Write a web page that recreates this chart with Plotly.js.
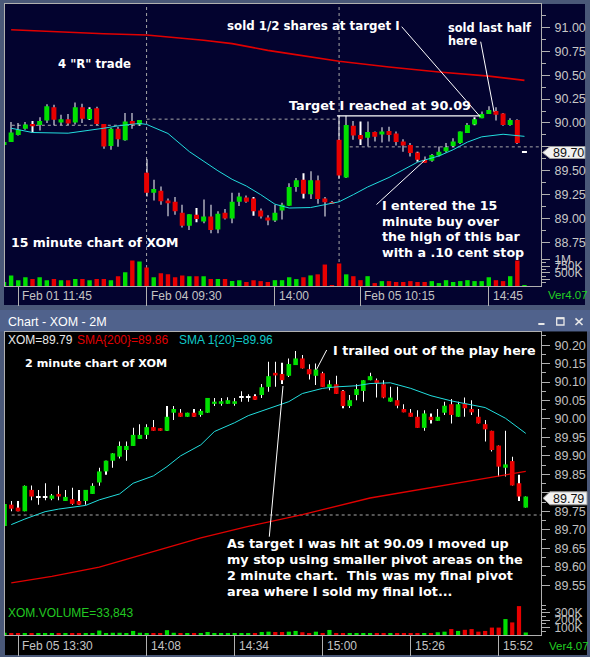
<!DOCTYPE html>
<html><head><meta charset="utf-8">
<script src="https://cdn.plot.ly/plotly-3.0.1.min.js"></script>
<style>html,body{margin:0;padding:0;background:#4a5878;}#chart{width:590px;height:657px;}</style>
</head><body><div id="chart"></div>
<script>
// ---------- 15 minute chart (top) ----------
const topOpen = [89.77,89.80,89.875,89.94,89.99,89.98,90.025,90.165,90.005,90.04,
 90.005,90.165,90.04,90.155,89.99,89.76,89.94,89.82,90.02,89.985,
 89.48,89.27,89.29,89.19,89.175,89.06,88.925,89.04,88.97,89.02,
 88.885,89.06,89.00,89.175,89.22,89.21,89.085,89.01,88.98,89.085,
 89.135,89.33,89.405,89.255,89.40,89.21,89.175,89.825,89.43,89.97,
 89.875,89.845,89.905,89.88,89.915,89.89,89.805,89.77,89.69,89.615,
 89.605,89.66,89.705,89.76,89.79,89.895,89.985,90.05,90.095,90.125,
 90.10,89.98,90.03,89.70];
const topHigh = [89.80,90.01,90.00,90.01,90.02,90.06,90.195,90.19,90.085,90.095,
 90.215,90.20,90.165,90.17,89.99,89.95,89.96,90.105,90.105,90.03,
 89.62,89.405,89.335,89.21,89.225,89.145,89.045,89.11,89.20,89.145,
 89.075,89.10,89.27,89.27,89.24,89.225,89.105,89.035,89.145,89.165,
 89.37,89.425,89.475,89.495,89.45,89.225,89.18,90.075,90.075,90.02,
 90.015,90.015,89.91,89.955,89.96,89.91,89.83,89.79,89.70,89.65,
 89.675,89.755,89.79,89.84,89.91,90.00,90.06,90.12,90.175,90.165,
 90.105,90.05,90.04,89.70];
const topLow = [89.76,89.80,89.87,89.93,89.90,89.92,90.00,89.975,89.98,89.98,
 89.985,90.00,90.03,89.98,89.73,89.72,89.75,89.815,89.94,89.97,
 89.23,89.19,89.145,89.025,89.04,88.905,88.88,88.96,88.95,88.845,
 88.845,88.99,88.95,89.13,89.165,89.03,89.00,88.93,88.965,88.99,
 89.13,89.28,89.21,89.205,89.155,89.02,89.165,89.415,89.425,89.825,
 89.77,89.755,89.805,89.795,89.805,89.765,89.70,89.65,89.595,89.58,
 89.595,89.65,89.69,89.745,89.78,89.895,89.975,90.05,90.095,90.025,
 89.97,89.97,89.78,89.70];
const topClose = [89.80,89.90,89.93,89.985,89.965,90.02,90.175,90.035,90.04,89.995,
 90.165,90.045,90.145,89.99,89.755,89.94,89.83,90.015,89.98,90.03,
 89.27,89.31,89.18,89.16,89.075,88.925,89.045,88.995,89.02,88.88,
 89.05,89.00,89.175,89.23,89.175,89.075,89.02,88.98,89.06,89.145,
 89.33,89.40,89.26,89.40,89.205,89.17,89.165,89.45,89.98,89.87,
 89.83,89.905,89.855,89.91,89.875,89.80,89.765,89.685,89.615,89.585,
 89.665,89.70,89.745,89.805,89.91,89.98,90.04,90.095,90.135,90.085,
 89.98,90.03,89.79,89.70];
const topVolumeK = [150,400,220,330,260,330,220,260,220,220,
 260,260,220,260,260,220,370,520,960,920,
 700,330,480,440,330,400,370,370,370,260,
 260,260,185,220,150,220,185,150,220,220,
 330,260,330,400,440,810,25,850,440,370,
 220,370,110,185,185,150,150,185,150,150,
 185,110,220,150,185,220,185,185,330,220,
 185,370,960,10];
const topSma200Idx = [1,6,11,14,20,25,28,32,37,40,47,54,61,68,73];
const topSma200 = [90.976,90.96,90.94,90.934,90.92,90.89,90.865,90.83,90.76,90.726,90.646,90.586,90.534,90.49,90.446];
const topSma20Idx = [1,4,9,12,14,16,19,20,23,26,28,30,32,34,36,38,40,43,45,47,49,51,54,56,58,61,63,65,67,70,73];
const topSma20 = [89.945,89.90,89.893,89.92,89.945,89.97,89.995,89.985,89.89,89.70,89.60,89.50,89.41,89.34,89.25,89.15,89.11,89.115,89.145,89.175,89.25,89.33,89.43,89.51,89.59,89.655,89.72,89.80,89.855,89.882,89.86];
const topTickIdx = [2,20,38,50,68];
const topTickLabels = ['Feb 01 11:45','Feb 04 09:30','14:00','Feb 05 10:15','14:45'];
const topPriceTicks = [88.75,89.00,89.25,89.50,89.75,90.00,90.25,90.50,90.75,91.00];
const topPriceLabels = ['88.75','89.00','89.25','89.50','','90.00','90.25','90.50','90.75','91.00'];
const topVolTicks = [250000,500000,750000,1000000];
const topVolTickLabels = ['','500K','750K','1M'];
const topPrevClose1 = 89.976, topPrevClose2 = 90.04, topPrevClose3 = 89.75;
const topTargetLevel = 90.075;
const topDayStartIdx = [20,47];

// ---------- 2 minute chart (bottom) ----------
const botOpen = [89.71,89.768,89.76,89.75,89.808,89.79,89.79,89.784,89.797,89.778,
 89.783,89.778,89.778,89.797,89.828,89.858,89.887,89.898,89.916,89.927,
 89.946,89.957,89.978,89.975,89.968,90.017,90.017,90.006,90.017,90.011,
 90.017,90.041,90.041,90.041,90.041,90.059,90.059,90.062,90.065,90.087,
 90.125,90.122,90.117,90.146,90.164,90.135,90.117,90.124,90.089,90.094,
 90.076,90.035,90.065,90.076,90.105,90.105,90.094,90.047,90.051,90.027,
 90.017,90.006,89.976,90.006,89.995,90.017,90.04,90.006,90.042,90.027,
 90.006,89.986,89.968,89.928,89.868,89.886,89.826,89.76];
const botHigh = [89.77,89.778,89.778,89.82,89.82,89.808,89.826,89.797,89.819,89.808,
 89.814,89.808,89.808,89.826,89.868,89.887,89.907,89.939,89.939,89.976,
 89.986,89.986,89.997,89.975,90.035,90.035,90.027,90.017,90.027,90.027,
 90.057,90.057,90.057,90.059,90.057,90.075,90.067,90.067,90.095,90.155,
 90.155,90.152,90.164,90.184,90.173,90.148,90.15,90.128,90.105,90.117,
 90.078,90.065,90.094,90.105,90.125,90.11,90.105,90.087,90.087,90.04,
 90.027,90.024,90.024,90.015,90.027,90.047,90.054,90.047,90.058,90.051,
 90.027,89.997,89.968,89.928,89.968,89.898,89.849,89.79];
const botLow = [89.71,89.75,89.75,89.75,89.78,89.768,89.78,89.78,89.78,89.778,
 89.768,89.768,89.768,89.797,89.819,89.849,89.868,89.893,89.887,89.927,
 89.946,89.946,89.968,89.968,89.968,89.997,90.006,90.006,90.006,90.006,
 90.017,90.035,90.036,90.041,90.036,90.047,90.047,90.052,90.057,90.074,
 90.087,90.095,90.114,90.146,90.137,90.107,90.092,90.087,90.078,90.068,
 90.029,90.03,90.051,90.047,90.105,90.058,90.056,90.047,90.029,90.018,
 90.006,89.976,89.968,89.988,89.995,90.011,89.988,90.006,90.006,90.011,
 89.988,89.939,89.912,89.844,89.844,89.82,89.778,89.76];
const botClose = [89.77,89.757,89.75,89.819,89.79,89.79,89.79,89.793,89.79,89.789,
 89.77,89.768,89.808,89.819,89.858,89.887,89.907,89.927,89.927,89.957,
 89.957,89.978,89.968,89.968,90.006,90.027,90.006,90.017,90.006,90.022,
 90.057,90.047,90.048,90.051,90.048,90.059,90.059,90.052,90.086,90.116,
 90.118,90.105,90.149,90.164,90.137,90.121,90.134,90.087,90.094,90.068,
 90.035,90.051,90.081,90.105,90.116,90.096,90.058,90.058,90.036,90.018,
 90.006,89.976,90.015,89.997,90.006,90.036,90.011,90.04,90.029,90.018,
 89.988,89.972,89.916,89.871,89.877,89.82,89.79,89.79];
const botVolumeK = [30,20,20,25,20,15,15,20,15,20,
 20,15,20,25,60,25,30,30,20,55,
 30,25,20,25,65,30,25,20,20,25,
 40,25,20,20,25,15,15,20,40,45,
 40,40,45,55,37,25,45,15,68,25,
 25,20,20,25,25,25,25,25,20,20,
 25,25,25,25,37,45,80,55,70,80,
 45,55,100,100,215,170,390,33.843];
const botSma200Idx = [1,7,14,22,29,36,44,54,64,71,77];
const botSma200 = [89.556,89.574,89.599,89.641,89.678,89.709,89.741,89.786,89.817,89.84,89.858];
const botSma20Idx = [1,3,6,8,12,14,17,19,22,24,26,29,31,34,36,39,42,44,47,49,52,54,57,60,63,66,69,71,74,77];
const botSma20 = [89.714,89.729,89.749,89.756,89.766,89.781,89.797,89.826,89.846,89.871,89.90,89.93,89.966,89.99,90.009,90.027,90.047,90.069,90.083,90.087,90.09,90.096,90.098,90.083,90.063,90.049,90.038,90.031,90.002,89.961];
const botTickIdx = [2,21,34,47,60,73];
const botTickLabels = ['Feb 05 13:30','14:08','14:34','15:00','15:26','15:52'];
const botPriceTicks = [89.55,89.60,89.65,89.70,89.75,89.80,89.85,89.90,89.95,90.00,90.05,90.10,90.15,90.20];
const botPriceLabels = ['89.55','89.60','89.65','89.70','89.75','','89.85','89.90','89.95','90.00','90.05','90.10','90.15','90.20'];
const botVolTicks = [100000,200000,300000];
const botVolTickLabels = ['100K','200K','300K'];
const botStopLevel = 89.74;

// ---------- styling ----------
const W = 590, H = 657;
const px = x => x / W, py = y => 1 - y / H;
const GREEN = '#00e000', RED = '#e80000', CYAN = '#22dede', LINE = '#b0b0b0';
const SANS = 'Liberation Sans, Arial, sans-serif';
const BOLD = 'DejaVu Sans, Verdana, sans-serif';
const TICKTXT = '#c8c8c8';

function candles(o, h, l, c, xa, ya, bodyW, minBody) {
  const idx = o.map((_, i) => i);
  const wick = {type:'bar', x: idx, base: l, y: h.map((v, i) => v - l[i]), width: 0.02,
    marker:{color:'#ffffff', line:{width:0}}, xaxis: xa, yaxis: ya, hoverinfo:'skip'};
  const body = {type:'bar', x: idx,
    base: o.map((v, i) => (Math.abs(c[i]-v) < minBody) ? Math.min(v, c[i]) - minBody/2 : Math.min(v, c[i])),
    y: o.map((v, i) => Math.max(Math.abs(c[i]-v), minBody)), width: bodyW,
    marker:{color: o.map((v, i) => c[i] > v ? GREEN : (c[i] < v ? RED : '#ffffff')), line:{width:0}},
    xaxis: xa, yaxis: ya, hoverinfo:'skip'};
  return [wick, body];
}
function volume(vk, o, c, xa, ya, w) {
  return {type:'bar', x: vk.map((_, i) => i), y: vk.map(v => v * 1000), width: w,
    marker:{color: o.map((v, i) => c[i] >= v ? GREEN : RED), line:{width:0}},
    xaxis: xa, yaxis: ya, hoverinfo:'skip'};
}
function sma(ix, val, xa, ya, color, width) {
  return {type:'scatter', mode:'lines', x: ix, y: val, line:{color, width}, xaxis: xa, yaxis: ya, hoverinfo:'skip'};
}

const data = [
  sma(topSma200Idx, topSma200, 'x', 'y', '#e00000', 1.6),
  sma(topSma20Idx, topSma20, 'x', 'y', CYAN, 1),
  ...candles(topOpen, topHigh, topLow, topClose, 'x', 'y', 0.7, 0.012),
  volume(topVolumeK, topOpen, topClose, 'x', 'y2', 0.62),
  sma(botSma200Idx, botSma200, 'x2', 'y3', '#e00000', 1.3),
  sma(botSma20Idx, botSma20, 'x2', 'y3', CYAN, 1),
  ...candles(botOpen, botHigh, botLow, botClose, 'x2', 'y3', 0.68, 0.003),
  volume(botVolumeK, botOpen, botClose, 'x2', 'y4', 0.62)
];

function pline(x0, y0, x1, y1, color, width, dash, layer) {
  return {type:'line', xref:'paper', yref:'paper', x0:px(x0), y0:py(y0), x1:px(x1), y1:py(y1),
    line:{color, width, dash: dash || 'solid'}, layer: layer || 'above'};
}
function prect(x0, y0, x1, y1, fill, layer, lc, lw) {
  return {type:'rect', xref:'paper', yref:'paper', x0:px(x0), y0:py(y1), x1:px(x1), y1:py(y0),
    fillcolor: fill, line:{width: lw || 0, color: lc || fill}, layer: layer || 'below'};
}
function ppath(pts, fill, lc) {
  return {type:'path', xref:'paper', yref:'paper', layer:'above',
    path: 'M' + pts.map(p => px(p[0]).toFixed(5) + ',' + py(p[1]).toFixed(5)).join(' L') + ' Z',
    fillcolor: fill, line:{color: lc, width: 1}};
}
const DASH = '3px,3px', DCOL = '#a8a8a8';
const shapes = [
  prect(4, 4, 585, 305, '#03032f'),
  prect(0, 310, 590, 331.5, '#50628c'),
  prect(5, 331.5, 587, 655, '#000000'),
  ...topDayStartIdx.map(i => ({type:'line', xref:'x', yref:'paper', x0:i, x1:i, y0:py(286), y1:py(4), line:{color:DCOL, width:1, dash:DASH}, layer:'below'})),
  {type:'line', xref:'x', yref:'y', x0:1.1, x1:18.8, y0:topPrevClose1, y1:topPrevClose1, line:{color:DCOL, width:1, dash:DASH}, layer:'below'},
  {type:'line', xref:'x', yref:'y', x0:20, x1:46.7, y0:topPrevClose2, y1:topPrevClose2, line:{color:DCOL, width:1, dash:DASH}, layer:'below'},
  {type:'line', xref:'x', yref:'y', x0:48.5, x1:76, y0:topPrevClose3, y1:topPrevClose3, line:{color:DCOL, width:1, dash:DASH}, layer:'below'},
  {type:'line', xref:'x2', yref:'y3', x0:1.06, x1:80, y0:botStopLevel, y1:botStopLevel, line:{color:DCOL, width:1, dash:DASH}, layer:'below'},
  {type:'line', xref:'x', yref:'y', x0:46.7, x1:66.8, y0:topTargetLevel, y1:topTargetLevel, line:{color:'#ffffff', width:1.2}, layer:'above'},
  // pointer lines
  pline(401.7, 26.7, 480, 116.5, '#ffffff', 1),
  pline(480.7, 41.7, 494, 111.7, '#ffffff', 1),
  pline(376.5, 204.5, 425, 160, '#ffffff', 1),
  pline(326.7, 350, 316.5, 369.5, '#ffffff', 1),
  pline(269.3, 536.7, 283, 386, '#ffffff', 1),
  // price tags
  ppath([[542.5,152.5],[550,146.5],[585,146.5],[585,158.5],[550,158.5]], '#f2f2f2', '#9a9a9a'),
  ppath([[543,498.3],[550,491.8],[587,491.8],[587,504.8],[550,504.8]], '#f2f2f2', '#9a9a9a'),
  // window icons
  pline(538.3, 324, 544.5, 324, '#e8e8e8', 2),
  prect(556.7, 318, 564, 325, 'rgba(0,0,0,0)', 'above', '#e8e8e8', 1.3),
  pline(556.7, 318.3, 564, 318.3, '#e8e8e8', 2),
  pline(575.5, 318.3, 582.5, 325, '#e8e8e8', 1.6),
  pline(575.5, 325, 582.5, 318.3, '#e8e8e8', 1.6)
];

function ann(text, x, y, size, color, family, anchor) {
  return {text, xref:'paper', yref:'paper', x:px(x), y:py(y), xanchor: anchor || 'left', yanchor:'middle',
    showarrow:false, font:{family: family || BOLD, size, color}, borderpad:0};
}
const WHT = '#ffffff';
const annotations = [
  ann('<b>4 "R" trade</b>', 57, 64, 11.7, WHT),
  ann('<b>sold 1/2 shares at target I</b>', 225.8, 26, 11.8, WHT),
  ann('<b>sold last half</b>', 446.6, 28, 11.4, WHT),
  ann('<b>here</b>', 446.6, 41, 11.4, WHT),
  ann('<b>Target I reached at 90.09</b>', 287.5, 105, 12.8, WHT),
  ann('<b>I entered the 15</b>', 381, 205, 12.66, WHT),
  ann('<b>minute buy over</b>', 381, 221, 12.66, WHT),
  ann('<b>the high of this bar</b>', 381, 236.7, 12.66, WHT),
  ann('<b>with a .10 cent stop</b>', 381, 252, 12.66, WHT),
  ann('<b>15 minute chart of XOM</b>', 9.5, 243, 12.5, WHT),
  ann('<b>2 minute chart of XOM</b>', 23.5, 363, 11.2, WHT),
  ann('<b>I trailed out of the play here</b>', 332, 350.5, 12.7, WHT),
  ann('<b>As target I was hit at 90.09 I moved up</b>', 225.5, 543.3, 12.8, WHT),
  ann('<b>my stop using smaller pivot areas on the</b>', 225.5, 559.4, 12.8, WHT),
  ann('<b>2 minute chart.\u00a0 This was my final pivot</b>', 225.5, 575.5, 12.8, WHT),
  ann('<b>area where I sold my final lot...</b>', 225.5, 591.5, 12.8, WHT),
  ann('Chart - XOM - 2M', 6.8, 322, 12.5, '#ffffff', SANS),
  ann('XOM=' + botClose[botClose.length-1].toFixed(2), 6.8, 340, 12, '#e8e8e8', SANS),
  ann('SMA{200}=' + botSma200[botSma200.length-1].toFixed(2), 75.8, 340, 12, '#e00000', SANS),
  ann('SMA 1{20}=' + botSma20[botSma20.length-1].toFixed(2), 178.3, 340, 12, '#10c8c8', SANS),
  ann('XOM.VOLUME=' + Math.round(botVolumeK[botVolumeK.length-1]*1000).toLocaleString('en-US'), 6.8, 613, 12, '#22c822', SANS),
  ann('Ver4.07', 546.5, 295.5, 11.5, '#22d022', SANS),
  ann('Ver4.07', 547.5, 645.5, 11.5, '#22d022', SANS),
  ann(topClose[topClose.length-1].toFixed(2), 568, 152.8, 12.5, '#111111', SANS, 'center'),
  ann(botClose[botClose.length-1].toFixed(2), 568.5, 498.6, 12.5, '#111111', SANS, 'center'),
  ...topTickIdx.map((t, k) => ({text: topTickLabels[k], xref:'x', yref:'paper', x:t, xshift:3, y:py(296), xanchor:'left', yanchor:'middle', showarrow:false, font:{family:SANS, size:12, color:'#c4c4c4'}, borderpad:0})),
  ...botTickIdx.map((t, k) => ({text: botTickLabels[k], xref:'x2', yref:'paper', x:t, xshift:3, y:py(646), xanchor:'left', yanchor:'middle', showarrow:false, font:{family:SANS, size:12, color:'#c4c4c4'}, borderpad:0}))
];

const yCommon = {side:'right', ticks:'outside', ticklen:8, tickcolor:LINE, tickwidth:1, tickmode:'array',
  tickfont:{family:SANS, size:12.5, color:TICKTXT}, showgrid:false, zeroline:false, fixedrange:true, ticklabelstandoff:2};
const xCommon = {showline:true, linecolor:LINE, linewidth:1, mirror:true, ticks:'outside', ticklen:19, tickcolor:LINE,
  tickwidth:1, tickmode:'array', showticklabels:false, showgrid:false, zeroline:false, fixedrange:true};

const layout = {
  width:W, height:H, margin:{l:0, r:0, t:0, b:0, pad:0},
  paper_bgcolor:'#4a5878', plot_bgcolor:'rgba(0,0,0,0)',
  showlegend:false, barmode:'overlay', hovermode:false,
  xaxis: Object.assign({}, xCommon, {domain:[px(4.5), px(541)], range:[0.07, 75.32], anchor:'y', tickvals: topTickIdx}),
  yaxis: Object.assign({}, yCommon, {domain:[py(286), py(4)], range:[88.294, 91.245], anchor:'x',
    showline:true, linecolor:LINE, mirror:true,
    tickvals: topPriceTicks, ticktext: topPriceLabels,
    minor:{tickmode:'array', tickvals: topPriceTicks.map(v => v + 0.125), ticks:'outside', ticklen:4, tickcolor:LINE}}),
  yaxis2: Object.assign({}, yCommon, {overlaying:'y', anchor:'x', range:[0, 10.64e6],
    tickvals: topVolTicks, ticktext: topVolTickLabels, showline:false, tickfont:{family:SANS, size:12, color:TICKTXT},
    minor:{tickmode:'array', tickvals: topVolTicks.map(v => v - 125000), ticks:'outside', ticklen:4, tickcolor:LINE}}),
  xaxis2: Object.assign({}, xCommon, {domain:[px(5), px(541)], range:[0.074, 79.25], anchor:'y3', ticklen:20, tickvals: botTickIdx}),
  yaxis3: Object.assign({}, yCommon, {domain:[py(635), py(332)], range:[89.415, 90.2356], anchor:'x2',
    showline:true, linecolor:LINE, mirror:true, tickfont:{family:SANS, size:12.5, color:'#c0c0c0'},
    tickvals: botPriceTicks, ticktext: botPriceLabels,
    minor:{tickmode:'array', tickvals: botPriceTicks.map(v => v + 0.025), ticks:'outside', ticklen:4, tickcolor:LINE}}),
  yaxis4: Object.assign({}, yCommon, {overlaying:'y3', anchor:'x2', range:[0, 4.09e6],
    tickvals: botVolTicks, ticktext: botVolTickLabels, showline:false, tickfont:{family:SANS, size:12, color:'#c0c0c0'},
    minor:{tickmode:'array', tickvals: [50000,150000,250000,350000,400000], ticks:'outside', ticklen:4, tickcolor:LINE}}),
  shapes, annotations
};
Plotly.newPlot('chart', data, layout, {displayModeBar:false, responsive:false});
</script></body></html>
